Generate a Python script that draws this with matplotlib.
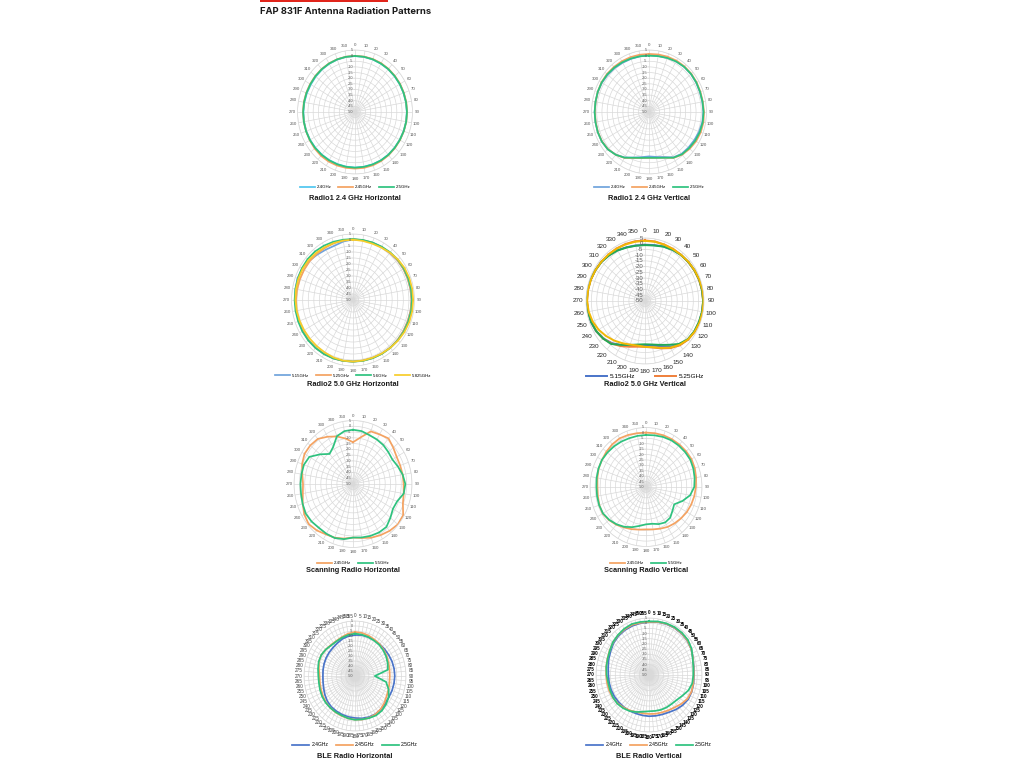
import numpy as np
import matplotlib.pyplot as plt
from matplotlib.lines import Line2D
from matplotlib.patches import Rectangle
from matplotlib.transforms import ScaledTranslation

plt.rcParams['font.family'] = ['Liberation Sans', 'DejaVu Sans']

# angles of the measured points (degrees) and of the axis labels
angles = list(range(0, 360, 10))
angles_ble = list(range(0, 360, 5))
r_ticks = list(range(5, -55, -5))

# --- Radio1 2.4 GHz Horizontal (dB) ---
r1h_names = ['2.4GHz', '2.45GHz', '2.5GHz']
r1h_24 = [-0.4, -0.4, -0.4, -0.5, -0.5, -0.6, -0.6, -0.6, -0.5, -0.4, -0.4, -0.5,
          -0.6, -0.6, -0.5, -0.5, -0.6, -0.7, -0.7, -0.8, -0.8, -0.7, -0.6, -0.5,
          -0.4, -0.4, -0.5, -0.6, -0.8, -1.0, -1.2, -1.0, -0.8, -0.6, -0.5, -0.4]
r1h_245 = [-0.2, -0.1, 0.0, 0.0, -0.1, -0.2, -0.2, -0.3, -0.2, -0.2, -0.2, -0.3,
           -0.3, -0.2, 0.0, 0.2, 0.3, 0.3, 0.2, 0.3, 0.5, 0.7, 0.7, 0.4,
           0.0, -0.2, -0.3, -0.3, -0.3, -0.4, -0.5, -0.4, -0.3, -0.2, -0.2, -0.2]
r1h_25 = [-0.3, -0.3, -0.3, -0.4, -0.4, -0.5, -0.5, -0.5, -0.4, -0.3, -0.3, -0.4,
          -0.5, -0.5, -0.4, -0.4, -0.5, -0.6, -0.6, -0.6, -0.6, -0.5, -0.4, -0.3,
          -0.2, -0.2, -0.3, -0.4, -0.5, -0.6, -0.7, -0.6, -0.5, -0.4, -0.3, -0.3]

# --- Radio1 2.4 GHz Vertical ---
r1v_names = ['2.4GHz', '2.45GHz', '2.5GHz']
r1v_24 = [0.2, 0.5, 1.2, 1.9, 2.3, 2.4, 2.1, 1.8, 1.8, 2.0, 1.8, 1.0,
          0.0, -0.8, -1.5, -3.5, -7.5, -9.5, -10.6, -9.3, -7.0, -3.4, -0.6, 1.4,
          2.1, 2.1, 2.0, 2.0, 1.9, 2.0, 2.0, 1.5, 1.0, 0.5, 0.2, 0.1]
r1v_245 = [1.5, 1.8, 2.2, 2.6, 2.8, 2.8, 2.6, 2.3, 2.3, 2.6, 2.9, 2.7,
           2.0, 0.8, -0.6, -3.0, -6.8, -8.7, -9.2, -8.5, -6.5, -3.0, -0.5, 1.3,
           2.0, 2.0, 1.8, 1.8, 1.9, 2.2, 2.5, 2.5, 2.2, 2.0, 1.8, 1.6]
r1v_25 = [0.0, 0.3, 1.0, 1.8, 2.3, 2.5, 2.3, 2.0, 2.0, 2.2, 2.2, 1.8,
          1.0, 0.0, -1.0, -3.2, -6.8, -8.7, -9.4, -8.7, -6.8, -3.2, -0.5, 1.5,
          2.2, 2.2, 2.0, 2.0, 2.0, 2.2, 2.3, 2.0, 1.5, 1.0, 0.5, 0.2]

# --- Radio2 5.0 GHz Horizontal ---
r2h_names = ['5.15GHz', '5.25GHz', '5.6GHz', '5.825GHz']
r2h_515 = [0.5, 0.5, 0.8, 1.0, 1.3, 1.8, 2.0, 2.1, 2.2, 2.3, 2.3, 2.1,
           2.0, 2.0, 1.8, 1.6, 1.4, 1.3, 1.3, 1.5, 1.7, 1.9, 2.0, 2.0,
           1.8, 1.5, 1.5, 1.8, 2.3, 2.8, 2.5, 1.0, -0.5, -1.5, -1.8, -0.5]
r2h_525 = [0.6, 0.6, 0.8, 1.0, 1.3, 1.8, 2.0, 2.1, 2.2, 2.3, 2.3, 2.1,
           2.0, 2.0, 1.8, 1.6, 1.4, 1.3, 1.3, 1.5, 1.7, 1.9, 2.0, 2.0,
           1.8, 1.5, 1.2, 1.0, 0.8, 0.6, 0.5, 0.5, 0.3, 0.2, 0.3, 0.5]
r2h_56 = [0.8, 0.8, 1.0, 1.3, 1.8, 2.3, 2.5, 2.6, 2.7, 2.8, 2.8, 2.6,
          2.5, 2.3, 2.0, 1.8, 1.6, 1.5, 1.4, 1.5, 1.8, 2.0, 2.2, 2.3,
          2.3, 2.2, 2.2, 2.2, 2.3, 2.5, 2.8, 3.0, 2.8, 2.2, 1.6, 1.0]
r2h_5825 = [0.3, 0.0, 0.0, 0.5, 1.5, 2.5, 3.3, 3.6, 3.8, 3.8, 3.8, 3.6,
            3.2, 2.6, 2.0, 1.5, 1.2, 1.2, 1.3, 1.3, 1.0, 0.5, 0.3, 0.3,
            0.5, 0.8, 1.2, 1.5, 1.8, 2.0, 2.0, 1.8, 1.3, 0.8, 0.5, 0.3]

# --- Radio2 5.0 GHz Vertical ---
r2v_names = ['5.15GHz', '5.25GHz', '5.6GHz', '5.825GHz']
r2v_515 = [-1.0, -0.5, 0.7, 1.6, 2.4, 2.9, 3.4, 3.9, 4.1, 4.3, 4.1, 3.7,
           3.2, 2.2, 0.2, -4.0, -8.0, -10.5, -11.5, -11.0, -9.0, -5.5, -2.0, 0.8,
           2.7, 3.7, 4.1, 4.4, 4.4, 4.1, 3.6, 3.1, 2.2, 1.2, 0.0, -0.8]
r2v_525 = [2.9, 2.8, 2.5, 2.5, 2.5, 2.8, 3.2, 3.6, 4.0, 4.2, 4.2, 4.0,
           3.5, 2.5, 0.5, -2.5, -6.0, -8.8, -9.9, -9.5, -7.5, -4.5, -1.5, 1.0,
           2.5, 3.3, 3.8, 4.0, 4.0, 3.8, 3.5, 3.2, 3.0, 3.0, 3.0, 3.0]
r2v_56 = [-1.2, -0.8, 0.5, 1.5, 2.3, 2.8, 3.3, 3.8, 4.0, 4.2, 4.0, 3.5,
          3.0, 2.0, -1.0, -5.8, -9.2, -11.4, -12.2, -11.4, -9.2, -5.8, -1.0, 1.0,
          2.5, 3.5, 4.0, 4.3, 4.3, 4.0, 3.5, 3.0, 2.0, 1.0, -0.3, -1.0]
r2v_5825 = [2.5, 2.5, 2.3, 2.3, 2.5, 3.0, 3.5, 4.0, 4.5, 4.6, 4.5, 4.2,
            3.5, 2.3, 0.0, -3.0, -6.5, -9.0, -10.0, -10.5, -9.5, -7.5, -5.0, -2.5,
            0.0, 2.0, 3.3, 4.0, 4.0, 3.8, 3.5, 3.2, 3.0, 2.8, 2.6, 2.5]

# --- Scanning Radio Horizontal ---
sch_names = ['2.45GHz', '5.5GHz']
sch_245 = [-13.8, -9.0, -1.5, -0.4, 1.5, -1.0, -3.0, -3.2, -3.0, -2.8, -2.0, -0.5,
           4.0, 4.5, 3.0, 1.2, -0.5, -2.5, -3.6, -2.0, -0.5, 0.4, 2.5, 4.0,
           2.5, -0.1, -2.5, -3.4, -2.0, 0.5, 2.2, 2.0, 1.0, -2.7, -6.2, -10.0]
sch_55 = [-3.0, -3.5, -5.0, -5.5, -6.0, -7.0, -7.6, -5.5, -3.0, -1.2, -2.0, -6.2,
          -7.0, -4.5, -1.5, -1.5, -2.2, -3.0, -3.6, -1.5, -0.2, -0.3, -0.5, 0.5,
          1.0, 0.0, -0.8, -1.0, -1.2, -1.3, -3.0, -10.0, -16.0, -13.0, -6.0, -3.5]

# --- Scanning Radio Vertical ---
scv_names = ['2.45GHz', '5.5GHz']
scv_245 = [0.3, 0.5, 0.8, 1.0, 1.2, 1.4, 1.6, 1.0, 0.0, -1.0, -1.8, -2.7,
           -3.7, -5.0, -6.2, -7.4, -9.0, -10.2, -10.8, -10.0, -8.5, -6.8, -4.5, -2.5,
           -0.9, -1.2, -2.0, -2.3, -1.5, -0.5, 0.0, 0.8, 1.5, 1.9, 1.2, 0.5]
scv_55 = [-1.9, -1.5, -0.8, -0.2, 0.0, 0.2, 0.3, -0.5, -1.5, -2.6, -6.0, -12.0,
          -18.0, -16.0, -13.0, -12.2, -13.5, -15.5, -15.5, -13.5, -10.5, -7.5, -5.0, -2.8,
          -1.2, -1.0, -1.2, -1.3, -0.8, -0.3, 0.0, -0.5, -1.0, -1.5, -2.0, -2.0]

# --- BLE Radio Horizontal ---
bleh_names = ['2.4GHz', '2.45GHz', '2.5GHz']
bleh_24 = [-9.0, -8.5, -8.5, -8.5, -8.5, -8.3, -8.0, -7.5, -7.2, -7.1, -7.3, -7.5,
           -7.8, -7.5, -6.5, -6.0, -6.3, -7.0, -8.0, -8.5, -9.0, -9.5, -10.0, -11.0,
           -12.5, -14.0, -15.0, -15.4, -15.0, -14.5, -14.0, -13.5, -13.0, -12.0, -10.5, -9.5]
bleh_245 = [-6.0, -6.3, -7.0, -8.0, -8.5, -9.5, -10.5, -11.5, -12.2, -12.5, -12.3, -11.5,
            -10.5, -8.5, -6.8, -5.8, -5.5, -5.8, -6.3, -7.0, -7.5, -8.0, -8.5, -9.0,
            -10.0, -11.0, -11.5, -11.8, -10.5, -8.5, -8.0, -8.8, -9.5, -9.5, -8.5, -7.0]
bleh_25 = [-7.6, -8.0, -8.5, -9.0, -9.3, -10.2, -11.2, -12.5, -14.0, -28.6, -16.0, -11.5,
           -8.0, -6.2, -4.8, -4.5, -5.2, -6.0, -6.2, -7.0, -8.0, -8.3, -8.5, -8.6,
           -9.0, -9.8, -10.5, -10.5, -9.5, -8.3, -8.0, -8.8, -10.0, -10.0, -9.2, -8.3]

# --- BLE Radio Vertical ---
blev_names = ['2.4GHz', '2.45GHz', '2.5GHz']
blev_24 = [1.0, 1.8, 2.3, 2.5, 2.3, 1.8, 0.5, -1.5, -2.8, -3.3, -3.0, -2.8,
           -3.0, -4.5, -6.5, -8.5, -9.5, -10.0, -10.2, -10.5, -10.5, -10.0, -9.5, -9.0,
           -8.5, -8.2, -8.0, -7.8, -7.0, -5.5, -4.0, -2.0, -0.8, 0.0, 0.5, 0.8]
blev_245 = [1.3, 2.0, 2.6, 2.8, 2.6, 2.0, 0.5, -1.5, -3.0, -3.5, -3.3, -3.0,
            -4.0, -6.5, -9.0, -10.5, -11.5, -12.0, -12.4, -12.5, -12.0, -10.5, -9.0, -7.5,
            -6.5, -6.0, -5.8, -5.5, -4.8, -4.0, -2.8, -1.2, 0.0, 0.8, 1.5, 1.2]
blev_25 = [1.8, 2.5, 3.0, 3.3, 3.2, 2.7, 1.0, -1.8, -3.3, -4.0, -4.3, -6.5,
           -10.0, -12.5, -13.5, -13.8, -14.2, -14.8, -15.0, -14.0, -12.0, -9.8, -8.2, -7.0,
           -6.8, -7.0, -7.0, -6.0, -5.0, -4.3, -3.0, -1.0, 0.3, 1.5, 2.4, 2.0]

W, H = 1024, 768
fig = plt.figure(figsize=(W / 100, H / 100), dpi=100)


def panel(cx, cy, ry, rx, series, names, colors, title, leg_y, title_y,
          tick_angles=angles, tick_fs=3.2, tick_color='#595959', tick_weight='normal',
          r_fs=2.8, leg_fs=3.2, leg_n=None, leg_colspace=1.5, pad=-3.5, lw=1.25):
    ax = fig.add_axes([(cx - rx) / W, 1 - (cy + ry) / H, 2 * rx / W, 2 * ry / H],
                      projection='polar')
    ax.set_aspect('auto')  # the source pictures are squeezed sideways
    ax.set_theta_zero_location('N')
    ax.set_theta_direction(-1)
    ax.set_ylim(-50, 5)
    ax.set_yticks(r_ticks)
    ax.set_yticklabels([])
    ax.set_xticks(np.deg2rad(tick_angles))
    ax.set_xticklabels([str(a) for a in tick_angles], fontsize=tick_fs,
                       color=tick_color, fontweight=tick_weight)
    ax.tick_params(axis='x', pad=pad, length=0)
    ax.tick_params(axis='y', length=0)
    ax.grid(color='#d9d9d9', lw=0.5)
    ax.spines['polar'].set_color('#d9d9d9')
    ax.spines['polar'].set_linewidth(0.5)
    off = ax.transData + ScaledTranslation(-1.2 / 72, 0, fig.dpi_scale_trans)
    for v in r_ticks:
        ax.text(0, v, str(v), transform=off, ha='right', va='center',
                fontsize=r_fs, color='#595959')
    th = np.deg2rad(angles + [angles[0]])
    for vals, c in zip(series, colors):
        ax.plot(th, vals + [vals[0]], color=c, lw=lw)
    n = leg_n if leg_n else len(names)
    handles = [Line2D([], [], color=colors[i], lw=lw) for i in range(n)]
    fig.legend(handles, names[:n], loc='center', bbox_to_anchor=(cx / W, 1 - leg_y / H),
               ncol=n, frameon=False, fontsize=leg_fs, handlelength=3.4,
               handletextpad=0.4, columnspacing=leg_colspace)
    fig.text(cx / W, 1 - title_y / H, title, ha='center', va='center',
             fontsize=5.3, fontweight='bold', color='#1a1a1a')
    return ax


cyan, orange, green = '#4fc6ef', '#f4a261', '#2ec27e'
lblue, yellow = '#6fa3dc', '#f7cd2a'
dblue, dorange, dgreen = '#4a74c9', '#ef7f3a', '#22a957'

panel(355, 112, 62, 57.5, [r1h_24, r1h_245, r1h_25], r1h_names, [cyan, orange, green],
      'Radio1 2.4 GHz Horizontal', 187, 199)
panel(649, 112, 62, 57.5, [r1v_24, r1v_245, r1v_25], r1v_names, [lblue, orange, green],
      'Radio1 2.4 GHz Vertical', 187, 199)
panel(353, 300, 66, 61.5, [r2h_515, r2h_525, r2h_56, r2h_5825], r2h_names,
      [lblue, orange, green, yellow], 'Radio2 5.0 GHz Horizontal', 376, 385)
panel(645, 301, 63, 59, [r2v_515, r2v_525, r2v_56, r2v_5825], r2v_names,
      [dblue, dorange, dgreen, '#f2b705'], 'Radio2 5.0 GHz Vertical', 376, 385,
      tick_fs=4.6, tick_color='#262626', r_fs=4.3, leg_fs=4.6, leg_n=2,
      leg_colspace=3.0, pad=-1.4, lw=1.4)
panel(353, 484, 63.5, 59, [sch_245, sch_55], sch_names, [orange, green],
      'Scanning Radio Horizontal', 563, 571)
panel(646, 487, 59.5, 56, [scv_245, scv_55], scv_names, [orange, green],
      'Scanning Radio Vertical', 563, 571)
panel(355, 676, 55, 51, [bleh_24, bleh_245, bleh_25], bleh_names, [dblue, orange, green],
      'BLE Radio Horizontal', 745, 757, tick_angles=angles_ble, tick_fs=3.3,
      tick_color='#404040', leg_fs=3.6, pad=-3.3)
panel(649, 675, 57, 53, [blev_24, blev_245, blev_25], blev_names, [dblue, orange, green],
      'BLE Radio Vertical', 745, 757, tick_angles=angles_ble, tick_fs=3.3,
      tick_color='#000000', tick_weight='bold', leg_fs=3.6, pad=-3.3)

# page heading with red accent bar
fig.add_artist(Rectangle((260 / W, 1 - 2 / H), 128 / W, 2 / H, transform=fig.transFigure,
                         color='#e1251b', lw=0))
fig.text(260 / W, 1 - 11 / H, 'FAP 831F Antenna Radiation Patterns', ha='left',
         va='center', fontsize=6.8, fontweight='bold', color='#1a1a1a',
         family=['Inter', 'DejaVu Sans'])

fig.savefig('out.png', dpi=100)
